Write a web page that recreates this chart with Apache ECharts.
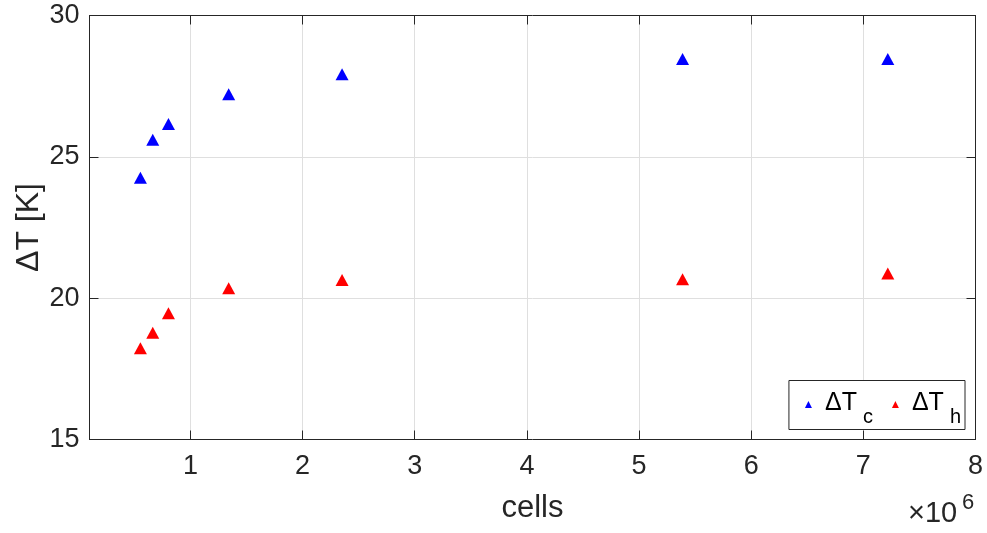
<!DOCTYPE html>
<html>
<head>
<meta charset="utf-8">
<script src="https://cdn.jsdelivr.net/npm/echarts@6/dist/echarts.min.js"></script>
<style>
  html, body { margin: 0; padding: 0; background: #fff; }
  #chart { width: 987px; height: 533px; }
</style>
</head>
<body>
<div id="chart"></div>
<script>
// Mesh size (millions of cells) and the resulting temperature differences
const cells = [0.554, 0.664, 0.804, 1.341, 2.352, 5.388, 7.218];
const dTc = [24.26, 25.60, 26.16, 27.21, 27.92, 28.46, 28.46];
const dTh = [18.23, 18.78, 19.47, 20.35, 20.64, 20.67, 20.87];
const xTicks = [1, 2, 3, 4, 5, 6, 7, 8];
const yTicks = [15, 20, 25, 30];

const ink = '#262626';
const font = 'Liberation Sans, Arial, Helvetica, sans-serif';

const pairs = (xs, ys) => xs.map((x, i) => [x, ys[i]]);

const chart = echarts.init(document.getElementById('chart'), null, { renderer: 'canvas' });

const tickStyle = { show: true, inside: true, length: 9, lineStyle: { color: ink, width: 1 } };
const lineStyle = { show: true, onZero: false, lineStyle: { color: ink, width: 1 } };

chart.setOption({
  animation: false,
  backgroundColor: '#ffffff',
  grid: {
    left: 89.5, top: 15.5, right: 11.5, bottom: 93.5,
    containLabel: false,
    outerBoundsMode: 'none'
  },
  xAxis: [
    {
      type: 'value', position: 'bottom',
      min: 0.1, max: 8,
      name: 'cells', nameLocation: 'middle', nameGap: 53,
      nameMoveOverlap: false,
      nameTextStyle: { color: ink, fontSize: 31, fontFamily: font },
      axisLine: lineStyle,
      axisTick: Object.assign({ customValues: xTicks }, tickStyle),
      axisLabel: { customValues: xTicks, color: ink, fontSize: 27, fontFamily: font, margin: 14 },
      splitLine: { show: true, lineStyle: { color: '#dfdfdf', width: 1 } }
    },
    {
      type: 'value', position: 'top',
      min: 0.1, max: 8,
      axisLine: lineStyle,
      axisTick: Object.assign({ customValues: xTicks }, tickStyle),
      axisLabel: { show: false },
      splitLine: { show: false }
    }
  ],
  yAxis: [
    {
      type: 'value', position: 'left',
      min: 15, max: 30, interval: 5,
      name: 'ΔT [K]', nameLocation: 'middle', nameGap: 44,
      nameMoveOverlap: false,
      nameTextStyle: { color: ink, fontSize: 32, fontFamily: font },
      axisLine: lineStyle,
      axisTick: tickStyle,
      axisLabel: { color: ink, fontSize: 27, fontFamily: font, margin: 10,
        formatter: v => (yTicks.indexOf(v) >= 0 ? String(v) : '') },
      splitLine: { show: true, lineStyle: { color: '#dfdfdf', width: 1 } }
    },
    {
      type: 'value', position: 'right',
      min: 15, max: 30, interval: 5,
      axisLine: lineStyle,
      axisTick: tickStyle,
      axisLabel: { show: false },
      splitLine: { show: false }
    }
  ],
  legend: {
    right: 22, bottom: 103.5,
    orient: 'horizontal',
    backgroundColor: '#ffffff',
    borderColor: ink, borderWidth: 1, borderRadius: 0,
    padding: [1, 4, 2, 16],
    itemGap: 19,
    itemWidth: 7, itemHeight: 7,
    data: [
      { name: 'ΔTc', icon: 'triangle' },
      { name: 'ΔTh', icon: 'triangle' }
    ],
    formatter: name => '{m|ΔT}{s|' + name.slice(2) + '}',
    textStyle: {
      color: '#000000', fontFamily: font,
      rich: {
        m: { fontSize: 25, fontFamily: font, color: '#000', lineHeight: 26, verticalAlign: 'middle', padding: [0, 0, 3, 8] },
        s: { fontSize: 20, fontFamily: font, color: '#000', lineHeight: 18, verticalAlign: 'middle', padding: [26, 0, 0, 6] }
      }
    }
  },
  graphic: [
    {
      type: 'text',
      left: 908, top: 499,
      style: { text: '×10', fill: ink, font: '29px ' + font, lineHeight: 29 }
    },
    {
      type: 'text',
      left: 962, top: 492,
      style: { text: '6', fill: ink, font: '22px ' + font, lineHeight: 22 }
    }
  ],
  series: [
    {
      name: 'ΔTc', type: 'scatter',
      xAxisIndex: 0, yAxisIndex: 0,
      symbol: 'triangle', symbolSize: [13, 12],
      itemStyle: { color: '#0000ff', opacity: 1 },
      data: pairs(cells, dTc)
    },
    {
      name: 'ΔTh', type: 'scatter',
      xAxisIndex: 0, yAxisIndex: 0,
      symbol: 'triangle', symbolSize: [13, 12],
      itemStyle: { color: '#ff0000', opacity: 1 },
      data: pairs(cells, dTh)
    }
  ]
});
</script>
</body>
</html>
